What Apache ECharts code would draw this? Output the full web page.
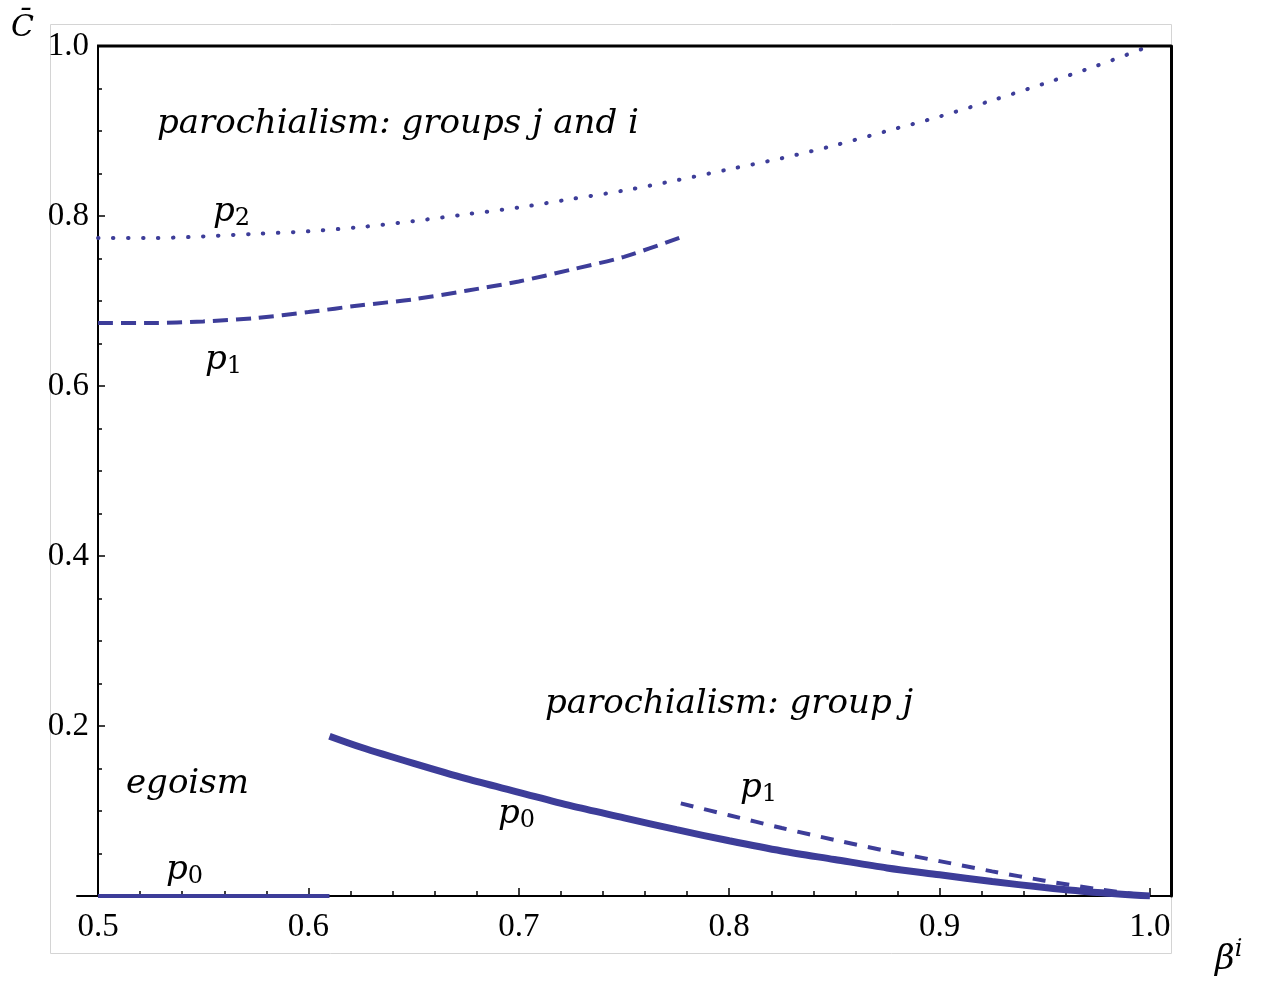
<!DOCTYPE html>
<html>
<head>
<meta charset="utf-8">
<script src="https://cdn.jsdelivr.net/npm/echarts@6/dist/echarts.min.js"></script>
<style>
html,body{margin:0;padding:0;background:#fff;}
#chart{width:1263px;height:981px;}
</style>
</head>
<body>
<div id="chart"></div>
<script>
// ---- data ----
const betaP2 = [0.5,0.525,0.55,0.575,0.6,0.625,0.65,0.675,0.7,0.725,0.75,0.775,0.8,0.825,0.85,0.875,0.9,0.925,0.95,0.975,1.0];
const cP2    = [0.774,0.774,0.776,0.779,0.782,0.787,0.794,0.802,0.810,0.820,0.830,0.842,0.855,0.868,0.883,0.900,0.917,0.936,0.956,0.977,1.0];

const betaP1Hi = [0.5,0.525,0.55,0.575,0.6,0.625,0.65,0.675,0.7,0.725,0.75,0.777];
const cP1Hi    = [0.674,0.674,0.676,0.680,0.687,0.695,0.702,0.712,0.723,0.737,0.752,0.775];

const betaP0Hi = [0.61,0.625,0.65,0.675,0.7,0.725,0.75,0.775,0.8,0.825,0.85,0.875,0.9,0.925,0.95,0.975,1.0];
const cP0Hi    = [0.188,0.175,0.156,0.138,0.122,0.106,0.092,0.078,0.065,0.053,0.043,0.033,0.025,0.017,0.010,0.004,0.0];

const betaP1Lo = [0.777,0.8,0.825,0.85,0.875,0.9,0.925,0.95,0.975,1.0];
const cP1Lo    = [0.109,0.095,0.080,0.066,0.053,0.041,0.029,0.018,0.008,0.0];

const betaP0Lo = [0.5,0.61];
const cP0Lo    = [0,0];

const xMajorTicks = [0.5,0.6,0.7,0.8,0.9,1.0];
const xMinorTicks = [0.52,0.54,0.56,0.58,0.62,0.64,0.66,0.68,0.72,0.74,0.76,0.78,0.82,0.84,0.86,0.88,0.92,0.94,0.96,0.98];

const pairs = (xs, ys) => xs.map((x, i) => [x, ys[i]]);

// ---- chart ----
const COLOR = '#3d3d99';
const chart = echarts.init(document.getElementById('chart'), null, {renderer: 'canvas'});
const serif = '"Liberation Serif"';
const mathFont = '"DejaVu Serif"';

const option = {
  animation: false,
  backgroundColor: '#fff',
  grid: {left: 77, right: 92, top: 46, bottom: 85, containLabel: false},
  xAxis: [
    {
      type: 'value', min: 0.49, max: 1.01, position: 'bottom',
      axisLine: {show: true, onZero: false, lineStyle: {color: '#000', width: 2}},
      axisTick: {show: true, inside: true, length: 8, customValues: xMajorTicks, lineStyle: {color: '#000', width: 1.5}},
      axisLabel: {customValues: xMajorTicks, formatter: v => v.toFixed(1), fontFamily: serif, fontSize: 33, color: '#000', margin: 15},
      splitLine: {show: false}
    },
    {
      type: 'value', min: 0.49, max: 1.01, position: 'bottom',
      axisLine: {show: false, onZero: false},
      axisTick: {show: true, inside: true, length: 5, customValues: xMinorTicks, lineStyle: {color: '#000', width: 1.5}},
      axisLabel: {show: false},
      splitLine: {show: false}
    }
  ],
  yAxis: [
    {
      type: 'value', min: 0, max: 1, interval: 0.2, position: 'left', offset: -21,
      axisLine: {show: true, onZero: false, lineStyle: {color: '#000', width: 2}},
      axisTick: {show: true, inside: true, length: 7, lineStyle: {color: '#000', width: 1.5}},
      minorTick: {show: true, splitNumber: 4, length: 4, lineStyle: {color: '#000', width: 1.5}},
      axisLabel: {formatter: v => v === 0 ? '' : v.toFixed(1), fontFamily: serif, fontSize: 33, color: '#000', margin: 9},
      splitLine: {show: false}
    },
    {
      type: 'value', min: 0, max: 1, position: 'right',
      axisLine: {show: true, onZero: false, lineStyle: {color: '#000', width: 3}},
      axisTick: {show: false}, axisLabel: {show: false}, splitLine: {show: false}
    }
  ],
  series: [
    {
      type: 'line', name: 'p2', data: pairs(betaP2, cP2), showSymbol: false, smooth: 0.3,
      lineStyle: {color: COLOR, width: 4, type: [0.5, 14.5], cap: 'round'}, z: 5
    },
    {
      type: 'line', name: 'p1 high', data: pairs(betaP1Hi, cP1Hi), showSymbol: false, smooth: 0.3,
      lineStyle: {color: COLOR, width: 4, type: [15, 8], cap: 'butt'}, z: 5
    },
    {
      type: 'line', name: 'p0 high', data: pairs(betaP0Hi, cP0Hi), showSymbol: false, smooth: 0.3,
      lineStyle: {color: COLOR, width: 7}, z: 5
    },
    {
      type: 'line', name: 'p1 low', data: pairs(betaP1Lo, cP1Lo), showSymbol: false, smooth: 0.3,
      lineStyle: {color: COLOR, width: 4, type: [13, 11], cap: 'butt'}, z: 5
    },
    {
      type: 'line', name: 'p0 low', data: pairs(betaP0Lo, cP0Lo), showSymbol: false,
      lineStyle: {color: COLOR, width: 4}, z: 5
    }
  ]
};
chart.setOption(option);

// frame (top border) and annotations
const topL = chart.convertToPixel({xAxisIndex: 0, yAxisIndex: 0}, [0.5, 1]);
const topR = chart.convertToPixel({xAxisIndex: 0, yAxisIndex: 0}, [1.01, 1]);

const mathText = (text, x, y, size) => ({
  type: 'text', x: x, y: y, z: 10,
  style: {text: text, fontFamily: mathFont, fontStyle: 'italic', fontSize: size || 34, fill: '#000', align: 'left', verticalAlign: 'middle'}
});
const subText = (base, sub, x, y) => ({
  type: 'text', x: x, y: y, z: 10,
  style: {
    text: '{b|' + base + '}{s|' + sub + '}', align: 'left', verticalAlign: 'middle',
    rich: {
      b: {fontFamily: mathFont, fontStyle: 'italic', fontSize: 34, color: '#000', lineHeight: 40},
      s: {fontFamily: mathFont, fontSize: 24, color: '#000', lineHeight: 28, padding: [14, 0, 0, 0]}
    }
  }
});

chart.setOption({
  graphic: [
    {type: 'rect', z: -1, shape: {x: 50.5, y: 24.5, width: 1121, height: 929}, style: {fill: 'none', stroke: '#d4d4d4', lineWidth: 1}},
    {type: 'line', z: 8, shape: {x1: topL[0] - 1, y1: topL[1], x2: topR[0], y2: topR[1]}, style: {stroke: '#000', lineWidth: 3}},
    mathText('parochialism: groups j and i', 157, 124),
    subText('p', '2', 213, 212),
    subText('p', '1', 205, 360),
    mathText('parochialism: group j', 545, 704),
    mathText('egoism', 126, 784),
    subText('p', '0', 498, 814),
    subText('p', '1', 740, 788),
    subText('p', '0', 166, 870),
    mathText('C\u0304', 11, 28, 30),
    {
      type: 'text', x: 1215, y: 960, z: 10,
      style: {
        text: '{b|\u03b2}{s|i}', verticalAlign: 'middle', align: 'left',
        rich: {
          b: {fontFamily: mathFont, fontStyle: 'italic', fontSize: 34, color: '#000'},
          s: {fontFamily: mathFont, fontStyle: 'italic', fontSize: 24, color: '#000', padding: [0, 0, 20, 0]}
        }
      }
    }
  ]
});
</script>
</body>
</html>
